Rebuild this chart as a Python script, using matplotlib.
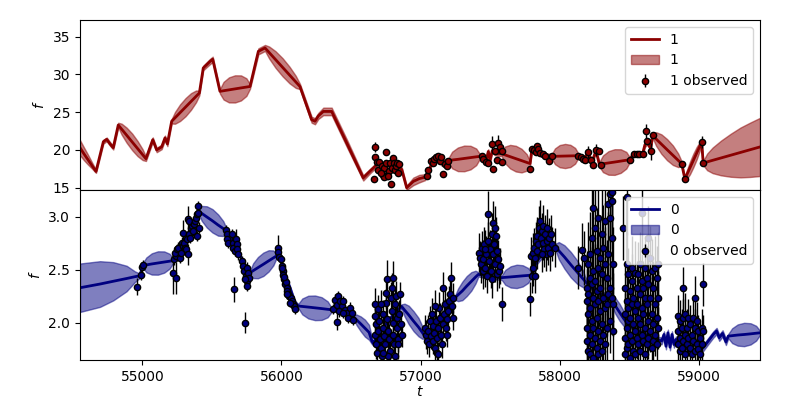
import numpy as np
import matplotlib.pyplot as plt

# posterior curves: (t, mean, half width of band)
top_curve = [
    (54552, 20.3, 1.0), (54580, 19.5, 0.85), (54610, 18.7, 0.65), (54640, 17.9, 0.4),
    (54667, 17.16, 0.2), (54720, 21.1, 0.25), (54744, 21.4, 0.25), (54768, 20.8, 0.25),
    (54791, 20.3, 0.25), (54827, 23.3, 0.3),
    (54851, 22.76, 0.72), (54887, 21.96, 1.0), (54927, 21.07, 1.1), (54966, 20.18, 1.0),
    (55002, 19.38, 0.72), (55026, 18.84, 0.3),
    (55075, 21.36, 0.3), (55103, 20.0, 0.3), (55139, 20.4, 0.3), (55163, 21.6, 0.3),
    (55180, 20.8, 0.3), (55211, 23.8, 0.3),
    (55235, 24.25, 0.78), (55271, 24.93, 1.1), (55311, 25.67, 1.2), (55350, 26.42, 1.1),
    (55386, 27.09, 0.78), (55410, 27.54, 0.3),
    (55438, 30.85, 0.3), (55486, 31.7, 0.35), (55506, 32.0, 0.35), (55558, 27.76, 0.3),
    (55584, 27.84, 1.17), (55623, 27.95, 1.66), (55666, 28.08, 1.8), (55709, 28.21, 1.66),
    (55748, 28.32, 1.17), (55774, 28.4, 0.3),
    (55834, 33.05, 0.4), (55882, 33.5, 0.4),
    (55912, 32.89, 0.8), (55957, 31.98, 1.1), (56008, 30.95, 1.2), (56058, 29.92, 1.1),
    (56103, 29.01, 0.8), (56133, 28.4, 0.35),
    (56217, 24.0, 0.4), (56241, 23.8, 0.4), (56265, 24.5, 0.4), (56301, 25.1, 0.5),
    (56361, 25.1, 0.5), (56475, 20.7, 0.5), (56588, 16.3, 0.35), (56637, 17.2, 0.3),
    (56700, 18.3, 0.3), (56760, 17.9, 0.3), (56820, 18.0, 0.3), (56865, 17.4, 0.3),
    (56900, 15.0, 0.3), (56948, 15.84, 0.5), (56990, 16.2, 0.5), (57032, 16.4, 0.4),
    (57056, 16.95, 0.3), (57080, 18.3, 0.3), (57128, 18.9, 0.3), (57152, 18.2, 0.3),
    (57176, 18.5, 0.3), (57200, 18.6, 0.3),
    (57227, 18.67, 1.1), (57268, 18.76, 1.56), (57314, 18.88, 1.7), (57359, 18.99, 1.56),
    (57400, 19.09, 1.1), (57427, 19.15, 0.3),
    (57471, 18.6, 0.3), (57487, 19.8, 0.3), (57499, 18.6, 0.3), (57515, 19.9, 0.3),
    (57535, 19.6, 0.3), (57560, 19.5, 0.3), (57583, 19.5, 0.3),
    (57607, 19.35, 1.1), (57644, 19.11, 1.56), (57685, 18.85, 1.7), (57726, 18.59, 1.56),
    (57763, 18.35, 1.1), (57787, 18.2, 0.3),
    (57799, 19.9, 0.3), (57830, 19.7, 0.3), (57860, 19.5, 0.3), (57895, 19.3, 0.3),
    (57943, 19.15, 0.3),
    (57966, 19.16, 1.04), (58000, 19.18, 1.47), (58039, 19.2, 1.6), (58077, 19.21, 1.47),
    (58111, 19.23, 1.04), (58134, 19.24, 0.3),
    (58170, 18.7, 0.3), (58206, 19.68, 0.3), (58230, 18.3, 0.3), (58261, 19.9, 0.3),
    (58285, 18.1, 0.3),
    (58311, 18.17, 1.1), (58351, 18.28, 1.56), (58395, 18.4, 1.7), (58439, 18.53, 1.56),
    (58479, 18.64, 1.1), (58505, 18.71, 0.3),
    (58529, 19.5, 0.3), (58596, 19.5, 0.3), (58613, 20.7, 0.3), (58630, 21.0, 0.3),
    (58654, 20.2, 0.3), (58668, 21.9, 0.3),
    (58693, 21.45, 0.9), (58731, 20.78, 1.29), (58772, 20.04, 1.4), (58814, 19.3, 1.29),
    (58852, 18.63, 0.9), (58877, 18.18, 0.3),
    (58900, 16.15, 0.3),
    (58914, 16.73, 0.58), (58936, 17.6, 0.83), (58960, 18.58, 0.9), (58984, 19.55, 0.83),
    (59006, 20.44, 0.58), (59020, 21.0, 0.3),
    (59032, 18.27, 0.3), (59060, 18.42, 1.1), (59100, 18.63, 1.7), (59160, 18.94, 2.3),
    (59230, 19.3, 2.85), (59300, 19.67, 3.3), (59370, 20.03, 3.6), (59440, 20.4, 3.85),
]

bot_curve = [
    (54552, 2.33, 0.228), (54696, 2.365, 0.215), (54791, 2.391, 0.18), (54887, 2.417, 0.12),
    (54947, 2.434, 0.05), (54983, 2.443, 0.02),
    (55002, 2.54, 0.02), (55029, 2.545, 0.07), (55068, 2.554, 0.1), (55112, 2.563, 0.11),
    (55157, 2.572, 0.1), (55196, 2.58, 0.07), (55223, 2.585, 0.02),
    (55270, 2.708, 0.02), (55330, 2.834, 0.02), (55378, 2.975, 0.02), (55402, 3.054, 0.02),
    (55427, 3.03, 0.07), (55463, 2.997, 0.1), (55504, 2.96, 0.11), (55545, 2.92, 0.1),
    (55582, 2.887, 0.07), (55606, 2.865, 0.02),
    (55630, 2.80, 0.02), (55678, 2.708, 0.02), (55714, 2.598, 0.02), (55750, 2.504, 0.02),
    (55774, 2.472, 0.02),
    (55797, 2.491, 0.07), (55831, 2.519, 0.1), (55870, 2.551, 0.11), (55908, 2.583, 0.1),
    (55942, 2.611, 0.07), (55965, 2.63, 0.02),
    (55977, 2.708, 0.02), (56013, 2.488, 0.02), (56061, 2.33, 0.02), (56097, 2.19, 0.02),
    (56121, 2.158, 0.02),
    (56150, 2.154, 0.075), (56193, 2.148, 0.107), (56241, 2.141, 0.116), (56289, 2.134, 0.107),
    (56332, 2.127, 0.075), (56361, 2.123, 0.02),
    (56420, 2.122, 0.02), (56516, 2.06, 0.02),
    (56540, 2.028, 0.05), (56570, 1.99, 0.07), (56600, 1.95, 0.08), (56630, 1.91, 0.07),
    (56650, 1.83, 0.03), (56660, 1.808, 0.02),
    (56700, 1.9, 0.03), (56760, 2.0, 0.03), (56820, 2.1, 0.03), (56864, 2.154, 0.02),
    (56885, 2.12, 0.06), (56915, 2.074, 0.087), (56950, 2.015, 0.094), (56985, 1.96, 0.087),
    (57012, 1.91, 0.06), (57032, 1.871, 0.02),
    (57090, 1.95, 0.03), (57160, 2.08, 0.03), (57248, 2.236, 0.02),
    (57270, 2.264, 0.06), (57300, 2.3, 0.087), (57332, 2.346, 0.094), (57365, 2.39, 0.087),
    (57395, 2.43, 0.06), (57416, 2.456, 0.02),
    (57500, 2.44, 0.03), (57583, 2.425, 0.02),
    (57609, 2.428, 0.07), (57648, 2.432, 0.1), (57691, 2.437, 0.11), (57734, 2.442, 0.1),
    (57773, 2.446, 0.07), (57799, 2.45, 0.02),
    (57834, 2.58, 0.03), (57900, 2.68, 0.03), (57966, 2.72, 0.02),
    (57993, 2.68, 0.08), (58034, 2.62, 0.11), (58080, 2.547, 0.12), (58126, 2.477, 0.11),
    (58167, 2.415, 0.08), (58194, 2.374, 0.02),
    (58290, 2.27, 0.03), (58348, 2.255, 0.02),
    (58370, 2.22, 0.05), (58400, 2.16, 0.075), (58430, 2.1, 0.08), (58460, 2.04, 0.07),
    (58480, 2.005, 0.045), (58493, 1.985, 0.02),
    (58600, 1.9, 0.03), (58733, 1.828, 0.03),
    (58750, 1.89, 0.03), (58764, 1.78, 0.03), (58778, 1.906, 0.03), (58793, 1.771, 0.03),
    (58807, 1.89, 0.03), (58821, 1.796, 0.03), (58836, 1.843, 0.03),
    (58900, 1.76, 0.03), (58960, 1.733, 0.03), (59032, 1.765, 0.03), (59068, 1.828, 0.03),
    (59104, 1.89, 0.03), (59128, 1.922, 0.03), (59147, 1.86, 0.03), (59171, 1.9, 0.03),
    (59195, 1.821, 0.03), (59212, 1.875, 0.02),
    (59240, 1.879, 0.07), (59280, 1.885, 0.1), (59326, 1.89, 0.11), (59372, 1.896, 0.1),
    (59412, 1.902, 0.07), (59440, 1.906, 0.02),
]

# observed points: (t, f, err)
top_obs = [
    (56673, 20.39, 0.7), (56673, 19.07, 0.3), (56690, 18.36, 0.3), (56704, 18.36, 0.3),
    (56697, 17.39, 0.3), (56666, 16.15, 0.3), (56721, 17.83, 0.3), (56728, 16.73, 0.3),
    (56738, 17.61, 0.3), (56752, 19.77, 0.3), (56752, 18.27, 0.3), (56761, 16.59, 0.3),
    (56776, 17.17, 0.3), (56781, 18.27, 0.3), (56793, 17.61, 0.3), (56805, 18.93, 0.3),
    (56809, 18.27, 0.3), (56817, 17.39, 0.3), (56824, 17.92, 0.3), (56833, 18.27, 0.3),
    (56841, 16.95, 0.3), (56848, 18.18, 0.3), (56785, 15.53, 0.3), (56738, 16.42, 0.3),
    (56769, 16.59, 0.3), (56714, 16.95, 0.3),
    (57044, 16.59, 0.3), (57056, 17.30, 0.3), (57073, 18.49, 0.3), (57087, 18.27, 0.3),
    (57097, 18.80, 0.3), (57111, 19.07, 0.3), (57128, 19.24, 0.3), (57140, 18.49, 0.3),
    (57145, 19.07, 0.3), (57164, 16.86, 0.3), (57176, 18.18, 0.3), (57193, 17.92, 0.3),
    (57200, 18.49, 0.3),
    (57440, 19.15, 0.3), (57452, 18.80, 0.3), (57471, 18.36, 0.3), (57487, 18.27, 0.3),
    (57511, 20.83, 1.0), (57523, 17.48, 0.3), (57535, 19.82, 0.3), (57547, 18.71, 0.3),
    (57559, 20.92, 1.1), (57571, 20.39, 0.3), (57583, 19.82, 0.3), (57583, 18.36, 0.3),
    (57787, 17.48, 0.3), (57799, 20.12, 0.3), (57816, 19.95, 0.3), (57830, 19.68, 0.3),
    (57840, 20.48, 0.3), (57847, 20.12, 0.3), (57859, 19.6, 0.3), (57878, 19.51, 0.3),
    (57895, 19.24, 0.3), (57926, 18.49, 0.3), (57943, 19.15, 0.3),
    (58134, 19.24, 0.3), (58151, 19.07, 0.3), (58165, 18.80, 0.3), (58182, 18.62, 0.3),
    (58206, 19.73, 0.8), (58222, 18.62, 0.3), (58237, 18.05, 0.3), (58261, 19.95, 0.8),
    (58285, 19.82, 0.3), (58294, 18.05, 0.3),
    (58505, 18.71, 0.3), (58534, 19.51, 0.3), (58558, 19.51, 0.3), (58572, 19.51, 0.3),
    (58596, 19.51, 0.3), (58620, 22.46, 1.0), (58630, 21.14, 0.3), (58654, 19.82, 1.1),
    (58668, 22.02, 0.3), (58877, 18.18, 0.3), (58900, 16.15, 0.3), (59020, 21.01, 0.8),
    (59032, 18.27, 0.3),
]

bot_obs_early = [
    (54964, 2.34, 0.08), (54988, 2.45, 0.05), (54997, 2.526, 0.05), (55007, 2.544, 0.05),
    (55218, 2.472, 0.2), (55242, 2.425, 0.15), (55230, 2.598, 0.05), (55242, 2.629, 0.05),
    (55234, 2.661, 0.05), (55246, 2.692, 0.05), (55258, 2.708, 0.05), (55270, 2.614, 0.05),
    (55275, 2.661, 0.05), (55282, 2.755, 0.05), (55290, 2.849, 0.12), (55294, 2.724, 0.05),
    (55299, 2.755, 0.05), (55306, 2.708, 0.05), (55314, 2.692, 0.05), (55318, 2.787, 0.05),
    (55330, 2.645, 0.1), (55337, 2.834, 0.05), (55342, 2.802, 0.05), (55347, 2.897, 0.05),
    (55354, 2.912, 0.05), (55361, 2.944, 0.05), (55330, 2.975, 0.12), (55337, 2.96, 0.05),
    (55366, 2.865, 0.05), (55371, 2.928, 0.05), (55378, 2.96, 0.05), (55385, 2.991, 0.05),
    (55390, 3.022, 0.05), (55390, 2.818, 0.05), (55397, 3.101, 0.05), (55402, 3.038, 0.05),
    (55407, 2.897, 0.05),
    (55601, 2.871, 0.05), (55611, 2.834, 0.05), (55606, 2.787, 0.05), (55618, 2.755, 0.05),
    (55642, 2.834, 0.05), (55649, 2.755, 0.05), (55654, 2.708, 0.05), (55666, 2.677, 0.05),
    (55673, 2.787, 0.1), (55678, 2.739, 0.05), (55683, 2.692, 0.05), (55690, 2.645, 0.05),
    (55659, 2.315, 0.12), (55714, 2.582, 0.05), (55726, 2.535, 0.05), (55733, 2.488, 0.05),
    (55738, 2.0, 0.1), (55745, 2.441, 0.05), (55750, 2.519, 0.05), (55755, 2.393, 0.05),
    (55762, 2.472, 0.05), (55769, 2.425, 0.05), (55755, 2.346, 0.05), (55740, 2.409, 0.05),
    (55972, 2.708, 0.12), (55977, 2.67, 0.04), (55984, 2.62, 0.04), (55994, 2.598, 0.04),
    (56001, 2.535, 0.04), (56008, 2.488, 0.04), (56013, 2.45, 0.04), (56018, 2.409, 0.04),
    (56025, 2.362, 0.04), (56032, 2.387, 0.04), (56037, 2.33, 0.04), (56042, 2.299, 0.04),
    (56049, 2.274, 0.04), (56056, 2.252, 0.04), (56066, 2.236, 0.04), (56073, 2.205, 0.04),
    (56080, 2.173, 0.04), (56090, 2.158, 0.04), (56097, 2.126, 0.04), (56061, 2.189, 0.04),
    (56037, 2.268, 0.04), (56018, 2.431, 0.04), (56006, 2.513, 0.04),
    (56368, 2.129, 0.05), (56384, 2.217, 0.05), (56396, 2.17, 0.05), (56408, 2.248, 0.05),
    (56420, 2.201, 0.05), (56432, 2.154, 0.05), (56401, 2.012, 0.08), (56416, 2.107, 0.05),
    (56444, 2.201, 0.05), (56456, 2.122, 0.05), (56468, 2.091, 0.05), (56480, 2.044, 0.05),
    (56492, 2.138, 0.06), (56504, 2.091, 0.05), (56516, 2.028, 0.05), (56440, 2.091, 0.05),
]

bot_obs_2014 = [
    (56673, 2.173, 0.15), (56673, 2.063, 0.12), (56680, 1.985, 0.15), (56673, 1.89, 0.12),
    (56680, 1.796, 0.14), (56685, 1.717, 0.12), (56697, 2.126, 0.14), (56704, 2.016, 0.15),
    (56697, 1.922, 0.12), (56709, 1.843, 0.13), (56714, 1.765, 0.15), (56721, 1.686, 0.12),
    (56728, 2.079, 0.14), (56733, 1.953, 0.12), (56738, 1.875, 0.15), (56745, 1.796, 0.12),
    (56752, 2.283, 0.15), (56752, 2.189, 0.13), (56757, 2.409, 0.18), (56761, 2.032, 0.14),
    (56769, 1.922, 0.12), (56776, 1.843, 0.15), (56781, 1.733, 0.12), (56785, 2.236, 0.15),
    (56793, 2.33, 0.14), (56793, 2.11, 0.12), (56800, 2.0, 0.15), (56805, 1.89, 0.13),
    (56809, 1.796, 0.12), (56817, 2.173, 0.15), (56824, 2.252, 0.14), (56829, 2.048, 0.12),
    (56833, 1.953, 0.15), (56841, 1.843, 0.12), (56848, 2.079, 0.14), (56853, 2.268, 0.12),
    (56857, 1.985, 0.13), (56865, 1.89, 0.12), (56817, 1.686, 0.12), (56769, 1.686, 0.12),
    (56733, 1.717, 0.12), (56841, 1.796, 0.14), (56714, 2.173, 0.14), (56805, 2.425, 0.16),
    (57032, 1.953, 0.12), (57039, 1.89, 0.14), (57049, 1.827, 0.12), (57056, 1.922, 0.15),
    (57063, 1.796, 0.12), (57068, 2.016, 0.14), (57073, 1.875, 0.12), (57080, 2.079, 0.15),
    (57087, 1.969, 0.13), (57092, 1.827, 0.12), (57097, 1.906, 0.14), (57104, 1.765, 0.12),
    (57111, 2.016, 0.15), (57116, 1.717, 0.12), (57121, 1.859, 0.13), (57128, 1.953, 0.12),
    (57135, 2.142, 0.15), (57140, 2.048, 0.14), (57145, 1.89, 0.12), (57152, 1.796, 0.13),
    (57159, 1.985, 0.12), (57164, 2.33, 0.15), (57169, 2.079, 0.14), (57176, 2.173, 0.15),
    (57183, 1.953, 0.12), (57188, 2.032, 0.14), (57193, 1.89, 0.12), (57200, 2.11, 0.15),
    (57207, 2.205, 0.14), (57212, 2.268, 0.15), (57217, 2.425, 0.15), (57224, 2.158, 0.13),
    (57231, 2.048, 0.12), (57236, 2.236, 0.14), (57104, 2.158, 0.15), (57128, 1.702, 0.12),
    (57423, 2.661, 0.18), (57428, 2.614, 0.16), (57432, 2.551, 0.18), (57440, 2.708, 0.16),
    (57447, 2.488, 0.17), (57452, 2.598, 0.18), (57456, 2.739, 0.16), (57464, 2.519, 0.18),
    (57471, 2.645, 0.17), (57476, 2.441, 0.16), (57483, 3.022, 0.22), (57487, 2.771, 0.18),
    (57495, 2.582, 0.17), (57499, 2.692, 0.18), (57504, 2.488, 0.16), (57511, 2.834, 0.2),
    (57519, 2.944, 0.2), (57523, 2.645, 0.18), (57528, 2.739, 0.16), (57535, 2.551, 0.17),
    (57543, 2.818, 0.18), (57547, 2.456, 0.16), (57552, 2.677, 0.17), (57559, 2.598, 0.18),
    (57567, 2.488, 0.16), (57571, 2.535, 0.17), (57583, 2.173, 0.16), (57464, 2.692, 0.18),
    (57511, 2.409, 0.18), (57535, 2.897, 0.2),
    (57787, 2.221, 0.16), (57792, 2.629, 0.18), (57799, 2.441, 0.16), (57806, 2.661, 0.18),
    (57811, 2.519, 0.17), (57816, 2.708, 0.18), (57823, 2.614, 0.16), (57830, 2.771, 0.18),
    (57835, 2.677, 0.17), (57840, 2.818, 0.18), (57847, 2.739, 0.16), (57854, 2.897, 0.2),
    (57859, 2.96, 0.2), (57864, 2.802, 0.18), (57871, 2.865, 0.17), (57878, 2.755, 0.16),
    (57883, 2.912, 0.2), (57888, 2.692, 0.17), (57895, 2.834, 0.18), (57902, 2.645, 0.16),
    (57907, 2.771, 0.18), (57912, 2.897, 0.17), (57919, 2.708, 0.16), (57926, 2.802, 0.18),
    (57931, 2.661, 0.17), (57936, 2.834, 0.18), (57943, 2.739, 0.16), (57967, 2.708, 0.18),
    (57823, 2.441, 0.16), (57871, 2.645, 0.17),
]

bot_obs_2018 = [
    (58134, 2.52, 0.2), (58158, 2.69, 0.25), (58175, 2.61, 0.25),
    (58194, 2.33, 0.35), (58194, 2.205, 0.3), (58194, 1.953, 0.3), (58194, 1.827, 0.35),
    (58206, 2.551, 0.4), (58206, 2.268, 0.3), (58206, 2.079, 0.35), (58206, 1.733, 0.3),
    (58218, 2.645, 0.4), (58218, 2.425, 0.35), (58218, 2.142, 0.3), (58218, 1.89, 0.35),
    (58218, 1.702, 0.3), (58230, 2.802, 0.45), (58230, 2.362, 0.35), (58230, 2.016, 0.3),
    (58230, 1.796, 0.3), (58242, 3.085, 0.45), (58242, 2.488, 0.35), (58242, 2.236, 0.3),
    (58242, 1.953, 0.35), (58242, 1.67, 0.3), (58254, 2.897, 0.4), (58254, 2.393, 0.35),
    (58254, 2.173, 0.3), (58254, 1.859, 0.35), (58266, 2.677, 0.4), (58266, 2.299, 0.3),
    (58266, 2.048, 0.35), (58266, 1.765, 0.3), (58278, 2.991, 0.45), (58278, 2.519, 0.35),
    (58278, 2.205, 0.3), (58278, 1.922, 0.35), (58278, 1.702, 0.3), (58290, 2.614, 0.4),
    (58290, 2.33, 0.35), (58290, 2.11, 0.3), (58290, 1.827, 0.35), (58302, 2.834, 0.45),
    (58302, 2.456, 0.35), (58302, 1.985, 0.3), (58302, 1.733, 0.3), (58313, 2.708, 0.4),
    (58313, 2.236, 0.35), (58313, 1.89, 0.3), (58325, 2.96, 0.45), (58325, 2.551, 0.35),
    (58325, 2.142, 0.3), (58325, 1.796, 0.3), (58337, 2.425, 0.35), (58337, 2.173, 0.3),
    (58337, 1.953, 0.35), (58349, 3.117, 0.45), (58349, 2.645, 0.4), (58349, 2.268, 0.35),
    (58361, 3.211, 0.45), (58361, 2.991, 0.4), (58361, 2.33, 0.35), (58361, 2.016, 0.3),
    (58373, 3.227, 0.45), (58373, 3.148, 0.45), (58373, 2.802, 0.4), (58373, 2.236, 0.35),
    (58385, 2.551, 0.35), (58385, 2.173, 0.3), (58385, 1.922, 0.3),
    (58453, 2.89, 0.3), (58469, 2.33, 0.25), (58469, 2.079, 0.2), (58469, 1.859, 0.2),
    (58469, 1.702, 0.2), (58481, 3.18, 0.35), (58481, 2.551, 0.3), (58481, 2.205, 0.25),
    (58481, 1.953, 0.2), (58481, 1.765, 0.2), (58493, 2.456, 0.25), (58493, 2.142, 0.2),
    (58493, 2.016, 0.2), (58493, 1.796, 0.2), (58505, 2.299, 0.25), (58505, 2.048, 0.2),
    (58505, 1.89, 0.2), (58505, 1.67, 0.2), (58517, 2.519, 0.3), (58517, 2.393, 0.25),
    (58517, 2.173, 0.2), (58517, 1.827, 0.2), (58529, 2.236, 0.25), (58529, 1.985, 0.2),
    (58529, 1.733, 0.2), (58541, 2.472, 0.3), (58541, 2.11, 0.2), (58541, 1.922, 0.2),
    (58541, 1.702, 0.2), (58553, 2.33, 0.25), (58553, 2.173, 0.2), (58553, 1.859, 0.2),
    (58565, 2.456, 0.3), (58565, 2.048, 0.2), (58565, 1.796, 0.2), (58577, 2.551, 0.3),
    (58577, 2.268, 0.25), (58577, 1.985, 0.2), (58577, 1.733, 0.2), (58589, 3.03, 0.35),
    (58589, 2.393, 0.25), (58589, 2.142, 0.2), (58589, 1.89, 0.2), (58601, 2.33, 0.25),
    (58601, 2.079, 0.2), (58601, 1.827, 0.2), (58613, 2.519, 0.3), (58613, 2.236, 0.25),
    (58613, 1.953, 0.2), (58613, 1.702, 0.2), (58625, 2.425, 0.3), (58625, 2.173, 0.2),
    (58625, 1.796, 0.2), (58637, 2.8, 0.3), (58637, 2.362, 0.25), (58637, 2.016, 0.2),
    (58637, 1.859, 0.2), (58649, 2.614, 0.3), (58649, 2.236, 0.25), (58649, 1.922, 0.2),
    (58661, 2.488, 0.3), (58661, 2.079, 0.2), (58661, 1.765, 0.2), (58673, 2.33, 0.25),
    (58673, 1.985, 0.2), (58673, 1.827, 0.2), (58685, 2.519, 0.3), (58685, 2.173, 0.2),
    (58685, 1.89, 0.2), (58697, 2.425, 0.3), (58697, 2.048, 0.2), (58697, 1.796, 0.2),
    (58709, 2.551, 0.3), (58709, 2.236, 0.25), (58709, 1.953, 0.2),
    (58853, 2.063, 0.2), (58853, 1.922, 0.15), (58853, 1.796, 0.15), (58865, 2.016, 0.2),
    (58865, 1.859, 0.15), (58865, 1.733, 0.15), (58877, 1.953, 0.18), (58877, 1.765, 0.15),
    (58888, 2.33, 0.2), (58888, 2.048, 0.18), (58888, 1.827, 0.15), (58900, 2.079, 0.2),
    (58900, 1.89, 0.15), (58900, 1.702, 0.15), (58912, 1.953, 0.18), (58912, 1.796, 0.15),
    (58924, 2.048, 0.18), (58924, 1.859, 0.15), (58936, 1.985, 0.18), (58936, 1.765, 0.15),
    (58948, 1.89, 0.15), (58948, 1.702, 0.15), (58960, 2.048, 0.18), (58960, 1.827, 0.15),
    (58972, 2.236, 0.2), (58972, 1.953, 0.18), (58972, 1.733, 0.15), (58984, 2.016, 0.18),
    (58984, 1.796, 0.15), (58996, 1.922, 0.15), (58996, 1.749, 0.15), (59008, 1.859, 0.15),
    (59008, 1.702, 0.15), (59020, 1.953, 0.18), (59020, 1.796, 0.15), (59032, 2.362, 0.2),
    (59032, 1.922, 0.15),
]


def draw_band(ax, curve, obs, color, label):
    t, mean, hw = (np.array(c) for c in zip(*curve))
    ot, of, oe = zip(*obs)
    ax.plot(t, mean, color=color, lw=2, label=label)
    ax.fill_between(t, mean - hw, mean + hw, color=color, alpha=0.5, label=label)
    ax.errorbar(ot, of, yerr=oe, fmt="o", color=color, mec="k", ecolor="k",
                ms=4.5, mew=1, elinewidth=1, label=label + " observed")
    ax.set_ylabel("$f$")
    ax.legend(loc="upper right")


fig, (ax1, ax2) = plt.subplots(2, 1, sharex=True, figsize=(8, 4), dpi=100)
fig.subplots_adjust(left=0.1, right=0.95, top=0.95, bottom=0.1, hspace=0)

draw_band(ax1, top_curve, top_obs, "darkred", "1")
draw_band(ax2, bot_curve, bot_obs_early + bot_obs_2014 + bot_obs_2018, "navy", "0")

ax1.set_ylim(14.7, 37.2)
ax1.set_yticks([15, 20, 25, 30, 35])
ax2.set_ylim(1.65, 3.25)
ax2.set_yticks([2.0, 2.5, 3.0])
ax2.set_xlim(54552, 59440)
ax2.set_xlabel("$t$", labelpad=1)

fig.savefig("out.png")
